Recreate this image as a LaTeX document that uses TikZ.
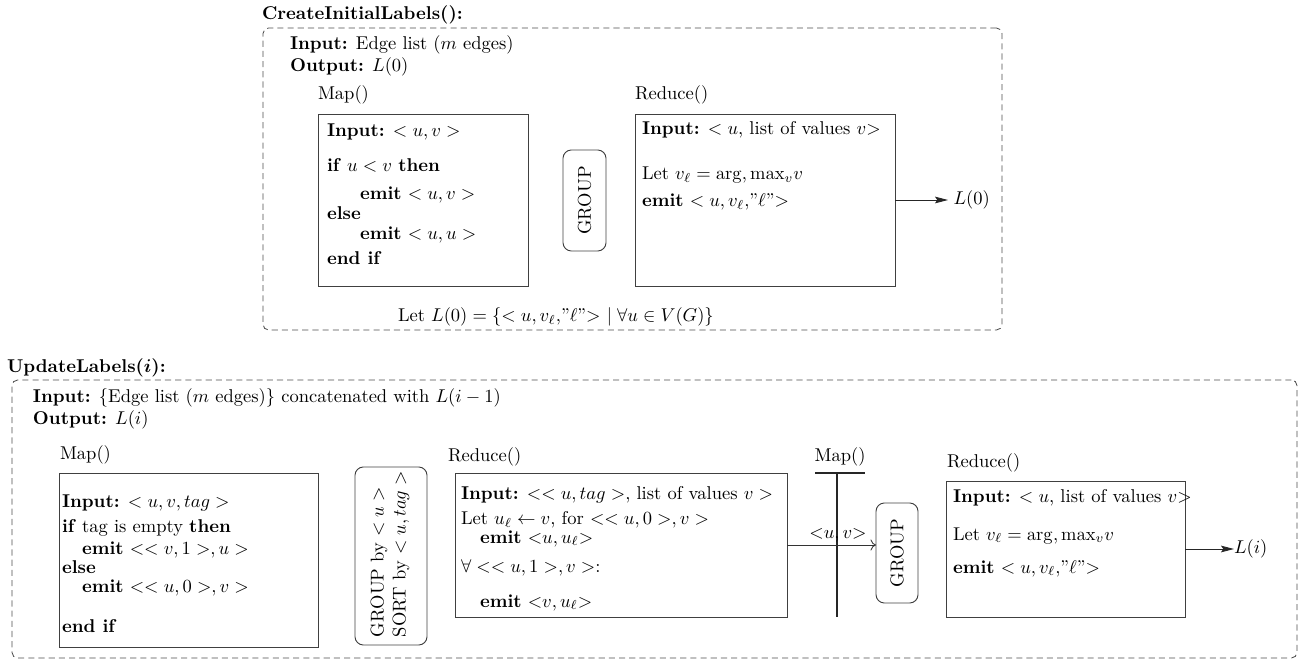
\documentclass[tikz,border=0pt]{standalone}
\usepackage{amsmath}
\usetikzlibrary{fit,arrows.meta}
\begin{document}
\begin{tikzpicture}[x=0.54pt,y=-0.54pt,
  font=\fontsize{10}{12}\selectfont,
  every node/.style={inner sep=0pt, outer sep=0pt},
  txt/.style={anchor=base west},
  ctxt/.style={anchor=base},
  procbox/.style={draw=black!75, line width=0.5pt},
  pillbox/.style={draw=black!75, line width=0.5pt, rounded corners=4.5pt},
  framebox/.style={draw=black!70, line width=0.45pt, dash pattern=on 3.3pt off 2.2pt, rounded corners=3pt},
  bar/.style={draw=black!85, line width=0.6pt},
  outarrow/.style={-{Stealth[length=7pt,width=3.6pt,inset=1.2pt]}, line width=0.5pt, draw=black!85},
  passarrow/.style={-{To[length=3pt,width=6pt]}, line width=0.45pt, draw=black!80},
]
\useasboundingbox (0,0) rectangle (1299,660);

% corner points of the boxes
\coordinate (f1a) at (263,28);   \coordinate (f1b) at (1002,330);
\coordinate (m1a) at (318,114);  \coordinate (m1b) at (528,286);
\coordinate (g1a) at (563,150);  \coordinate (g1b) at (606,251);
\coordinate (r1a) at (635,114);  \coordinate (r1b) at (895,286);
\coordinate (f2a) at (12,380);   \coordinate (f2b) at (1297,658);
\coordinate (m2a) at (59,473);   \coordinate (m2b) at (318,647);
\coordinate (g2a) at (355,467);  \coordinate (g2b) at (427,645);
\coordinate (r2a) at (455,473);  \coordinate (r2b) at (787,617);
\coordinate (g3a) at (876,503);  \coordinate (g3b) at (918,603);
\coordinate (r3a) at (946,481);  \coordinate (r3b) at (1185,617);

% ---------------- CreateInitialLabels() ----------------
\node[txt] (t1) at (262,20) {\textbf{CreateInitialLabels():}};
\node[framebox, fit=(f1a)(f1b)] (f1) {};
\node[txt] (in1) at (290,50) {\textbf{Input:} Edge list ($m$ edges)};
\node[txt] (out1) at (290,72) {\textbf{Output:} $L(0)$};

\node[txt] (mapl1) at (318,100) {Map()};
\node[txt] (redl1) at (635,100) {Reduce()};

\node[procbox, fit=(m1a)(m1b)] (map1) {};
\node[txt] at (327,137) {\textbf{Input:} $<u,v>$};
\node[txt] at (327,172) {\textbf{if} $u<v$ \textbf{then}};
\node[txt] at (360,200) {\textbf{emit} $<u,v>$};
\node[txt] at (327,220) {\textbf{else}};
\node[txt] at (360,240) {\textbf{emit} $<u,u>$};
\node[txt] at (327,265) {\textbf{end if}};

\node[pillbox, fit=(g1a)(g1b)] (grp1) {};
\node[rotate=90] (grp1t) at (grp1.center) {GROUP};

\node[procbox, fit=(r1a)(r1b)] (red1) {};
\node[txt] at (642,135) {\textbf{Input:} $<u$, list of values $v{>}$};
\node[txt] at (642,180) {Let $v_\ell=\arg,\mathrm{max}_v v$};
\node[txt] at (642,207) {\textbf{emit} $<u,v_\ell,$''$\ell$''$>$};

\node[anchor=west, outer sep=3pt] (L0) at (948,200) {$L(0)$};
\draw[outarrow] (red1.east) -- (L0.west);

\node[txt] (let1) at (398,322) {Let $L(0)=\{<u,v_\ell,$''$\ell$''$>\ \mid \forall u\in V(G)\}$};

% ---------------- UpdateLabels(i) ----------------
\node[txt] (t2) at (7,373) {\textbf{UpdateLabels(}$\boldsymbol{i}$\textbf{):}};
\node[framebox, fit=(f2a)(f2b)] (f2) {};
\node[txt] (in2) at (33,403) {\textbf{Input:} \{Edge list ($m$ edges)\} concatenated with $L(i-1)$};
\node[txt] (out2) at (33,425) {\textbf{Output:} $L(i)$};

\node[txt] (mapl2) at (60,460) {Map()};
\node[procbox, fit=(m2a)(m2b)] (map2) {};
\node[txt] at (62,508) {\textbf{Input:} $<u,v,tag>$};
\node[txt] at (62,532) {\textbf{if} tag is empty \textbf{then}};
\node[txt] at (82,555) {\textbf{emit} $<<v,1>,u>$};
\node[txt] at (62,573) {\textbf{else}};
\node[txt] at (82,592) {\textbf{emit} $<<u,0>,v>$};
\node[txt] at (62,632) {\textbf{end if}};

\node[pillbox, fit=(g2a)(g2b)] (grp2) {};
\node[rotate=90, anchor=west, align=left] (grp2t) at (390,637)
  {GROUP by $<u>$\\SORT by $<u,tag>$};

\node[txt] (redl2) at (448,462) {Reduce()};
\node[procbox, fit=(r2a)(r2b)] (red2) {};
\node[txt] at (461,500) {\textbf{Input:} $<<u,tag>$, list of values $v>$};
\node[txt] at (461,525) {Let $u_\ell\leftarrow v$, for $<<u,0>,v>$};
\node[txt] at (480,543) {\textbf{emit} $<$$u,u_\ell$$>$};
\node[txt] at (461,572) {$\forall<<u,1>,v>$:};
\node[txt] at (480,607) {\textbf{emit} $<$$v,u_\ell$$>$};

% map step drawn as a bar
\coordinate (barL) at (815,473);
\coordinate (barR) at (865,473);
\coordinate (barT) at (837,473);
\coordinate (barB) at (837,617);
\draw[bar] (barL) -- (barR);
\draw[bar] (barT) -- (barB);
\node[ctxt] (mapl3) at (840,462) {Map()};

\node[pillbox, fit=(g3a)(g3b)] (grp3) {};
\node[rotate=90] (grp3t) at (grp3.center) {GROUP};

\draw[passarrow] (red2.east) -- (red2.east -| grp3.west);
\node[ctxt] (uv) at (838,538) {$<$$u,v$$>$};

\node[txt] (redl3) at (947,468) {Reduce()};
\node[procbox, fit=(r3a)(r3b)] (red3) {};
\node[txt] at (953,503) {\textbf{Input:} $<u$, list of values $v{>}$};
\node[txt] at (953,540) {Let $v_\ell=\arg,\mathrm{max}_v v$};
\node[txt] at (953,573) {\textbf{emit} $<u,v_\ell,$''$\ell$''$>$};

\node[anchor=west] (Li) at (1234,549) {$L(i)$};
\draw[outarrow] (red3.east) -- (Li.west);
\end{tikzpicture}
\end{document}
